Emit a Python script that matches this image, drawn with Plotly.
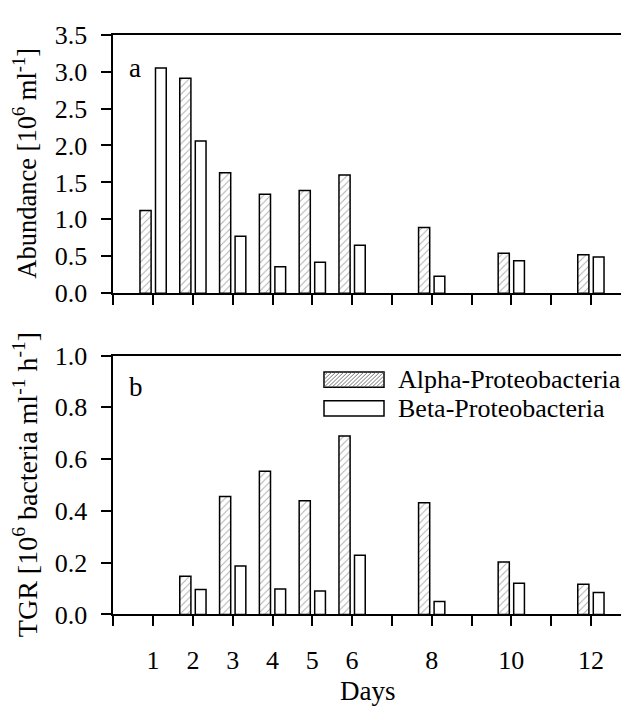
import plotly.graph_objects as go

days = [1, 2, 3, 4, 5, 6, 8, 10, 12]
abund_alpha = [1.12, 2.91, 1.63, 1.34, 1.39, 1.60, 0.89, 0.54, 0.52]
abund_beta = [3.05, 2.06, 0.77, 0.36, 0.42, 0.65, 0.23, 0.44, 0.49]
tgr_days = [2, 3, 4, 5, 6, 8, 10, 12]
tgr_alpha = [0.147, 0.456, 0.553, 0.439, 0.689, 0.431, 0.202, 0.116]
tgr_beta = [0.096, 0.187, 0.098, 0.090, 0.229, 0.050, 0.120, 0.085]
tick_days = list(range(0, 13))
tick_labels = ["", "1", "2", "3", "4", "5", "6", "", "8", "", "10", "", "12"]

W, H = 621, 717
FONT = "Liberation Serif"

def px_x(x):
    return x / W

def px_y(y):
    return 1 - y / H

hatch = dict(shape="/", fgcolor="#555555", bgcolor="white", size=5, solidity=0.18)
line = dict(color="black", width=1.5)

fig = go.Figure()
fig.add_trace(go.Bar(x=days, y=abund_alpha, offset=-0.33, width=0.28,
                     marker=dict(color="white", pattern=hatch, line=line),
                     xaxis="x", yaxis="y", showlegend=False))
fig.add_trace(go.Bar(x=days, y=abund_beta, offset=0.06, width=0.27,
                     marker=dict(color="white", line=line),
                     xaxis="x", yaxis="y", showlegend=False))
fig.add_trace(go.Bar(x=tgr_days, y=tgr_alpha, offset=-0.33, width=0.28,
                     marker=dict(color="white", pattern=hatch, line=line),
                     xaxis="x2", yaxis="y2", showlegend=False))
fig.add_trace(go.Bar(x=tgr_days, y=tgr_beta, offset=0.06, width=0.27,
                     marker=dict(color="white", line=line),
                     xaxis="x2", yaxis="y2", showlegend=False))

x0 = 113.3
xr = [0, (W - x0) / 39.8]
common_x = dict(range=xr, tickvals=tick_days, ticks="outside", ticklen=10, tickwidth=1.5,
                tickcolor="black", showline=True, linecolor="black", linewidth=1.5,
                mirror=True, showgrid=False, zeroline=False,
                tickfont=dict(family=FONT, size=26, color="black"))
common_y = dict(ticks="outside", ticklen=11, tickwidth=1.5, tickcolor="black",
                showline=True, linecolor="black", linewidth=1.5, showgrid=False,
                zeroline=False, tickformat=".1f", ticklabelstandoff=8,
                tickfont=dict(family=FONT, size=26, color="black"))

fig.update_layout(
    width=W, height=H,
    margin=dict(l=0, r=0, t=0, b=0),
    paper_bgcolor="white", plot_bgcolor="white",
    barmode="overlay",
    font=dict(family=FONT, color="black"),
    xaxis=dict(common_x, domain=[px_x(x0), 1], anchor="y", showticklabels=False),
    yaxis=dict(common_y, domain=[px_y(291), px_y(21.5)], range=[0, 3.5], dtick=0.5, anchor="x"),
    xaxis2=dict(common_x, domain=[px_x(x0), 1], anchor="y2", ticktext=tick_labels,
                ticklabelstandoff=12),
    yaxis2=dict(common_y, domain=[px_y(625.7), px_y(356)], range=[0, 1.0], dtick=0.2, anchor="x2"),
)

ann = []
ann.append(dict(text="Abundance [10<sup>6</sup> ml<sup>-1</sup>]", x=px_x(25), y=px_y(156),
                textangle=-90, font=dict(size=26.5)))
ann.append(dict(text="TGR [10<sup>6</sup> bacteria ml<sup>-1</sup> h<sup>-1</sup>]",
                x=px_x(25), y=px_y(491), textangle=-90, font=dict(size=28)))
ann.append(dict(text="Days", x=px_x(368), y=px_y(706), font=dict(size=27)))
ann.append(dict(text="a", x=px_x(135), y=px_y(56), font=dict(size=27)))
ann.append(dict(text="b", x=px_x(136), y=px_y(389), font=dict(size=27)))
ann.append(dict(text="Alpha-Proteobacteria", x=px_x(396), y=px_y(381), xanchor="left",
                font=dict(size=26)))
ann.append(dict(text="Beta-Proteobacteria", x=px_x(396), y=px_y(411), xanchor="left",
                font=dict(size=26)))
for a in ann:
    a.update(xref="paper", yref="paper", showarrow=False)
    a.setdefault("xanchor", "center")
    a["yanchor"] = "middle"
    a["font"] = dict(a["font"], family=FONT, color="black")
fig.update_layout(annotations=ann)

# legend boxes (decoration)
shapes = []
def box(xa, xb, ya, yb):
    return dict(type="rect", xref="paper", yref="paper", x0=px_x(xa), x1=px_x(xb),
                y0=px_y(yb), y1=px_y(ya), line=dict(color="black", width=1.5),
                fillcolor="white", layer="above")

lx0, lx1 = 324, 384
ay0, ay1 = 373, 389
by0, by1 = 403, 419
shapes.append(box(lx0, lx1, ay0, ay1))
# hatch lines inside the alpha legend box
h = ay1 - ay0
path = ""
t = lx0 - h
while t < lx1:
    xs, ys = t, ay1
    xe, ye = t + h, ay0
    if xs < lx0:
        ys = ay1 - (lx0 - xs)
        xs = lx0
    if xe > lx1:
        ye = ay0 + (xe - lx1)
        xe = lx1
    if xe > xs:
        path += f"M{px_x(xs)},{px_y(ys)} L{px_x(xe)},{px_y(ye)} "
    t += 4
shapes.append(dict(type="path", xref="paper", yref="paper", path=path,
                   line=dict(color="#555555", width=0.8), layer="above"))
shapes.append(box(lx0, lx1, by0, by1))
fig.update_layout(shapes=shapes)

fig.write_html("out.html", config={"displayModeBar": False},
               post_script="document.body.style.margin='0';document.body.style.overflow='hidden';")
